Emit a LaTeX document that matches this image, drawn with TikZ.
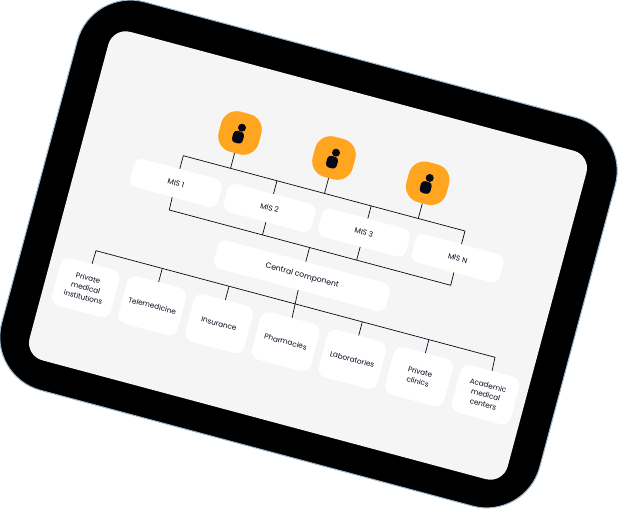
\documentclass[tikz,border=0pt]{standalone}
\usepackage{fontspec}
\setmainfont{Poppins}
\usetikzlibrary{calc}
\definecolor{edgeblue}{HTML}{9DB6CB}
\definecolor{screengray}{HTML}{F5F5F5}
\definecolor{badgeorange}{HTML}{FFA51F}
\definecolor{inknavy}{HTML}{050818}
\tikzset{
    misbox/.style={fill=white, rotate=-15, rounded corners=8, minimum width=91, minimum height=29, inner sep=0, text=inknavy, font=\fontsize{7.4}{9}\selectfont},
    destbox/.style={fill=white, rotate=-15, rounded corners=9, minimum width=61, minimum height=49, inner sep=0, align=center, text=inknavy, font=\fontsize{7.3}{9.8}\selectfont},
    badge/.style={fill=badgeorange, rotate=-15, rounded corners=16, minimum size=41.5, inner sep=0},
    wire/.style={draw=inknavy, line width=0.7},
}

\begin{document}
\begin{tikzpicture}[x=1pt, y=-1pt]

    \useasboundingbox (0,0) rectangle (618,510);

    % tablet body and screen
    \draw[edgeblue, line width=1.6] (138,2.5) -- (183,14.5);
    \draw[edgeblue, line width=1.6] (79,40) -- (70.5,75);
    \node (tablet) [draw=edgeblue, line width=1, fill=black, rotate=-15, rounded corners=55, minimum width=557, minimum height=402, inner sep=0] at (308.5,254) {};
    \node (screen) [fill=screengray, rotate=-15, rounded corners=18, minimum width=495, minimum height=340, inner sep=0] at (308,255.5) {};
    \node (camera) [circle, fill=inknavy, minimum size=1.5, inner sep=0] at (51,186) {};

    \node (mis1) [misbox] at (176,183) {MIS 1};
    \node (mis2) [misbox] at (269.7,208) {MIS 2};
    \node (mis3) [misbox] at (364,232.7) {MIS 3};
    \node (misn) [misbox] at (457.7,258.3) {MIS N};
    \node (central) [misbox, minimum width=178, font=\fontsize{7.7}{9}\selectfont] at (302,275.8) {Central component};

    \foreach \n/\x/\y/\t in {1/85.7/287.7/{Private\\medical\\institutions}, 2/152.3/305.7/Telemedicine, 3/219/323.7/Insurance, 4/285.7/341.7/Pharmacies, 5/352.3/359.3/Laboratories, 6/419/376.7/{Private\\clinics}, 7/485.7/394.7/{Academic\\medical\\centers}}
    \node (dest\n) [destbox] at (\x,\y) {\t};

    \foreach \n/\x/\y in {1/240/133, 2/334/158, 3/427.7/183.3} {
        \node (badge\n) [badge] at (\x,\y) {};
        \node (head\n) [circle, fill=inknavy, minimum size=8, inner sep=0] at ($(badge\n)+(2,-5.3)$) {};
        \node (body\n) [fill=inknavy, rotate=-15, rounded corners=3.6, minimum width=11, minimum height=12, inner sep=0] at ($(badge\n)+(-2,4.2)$) {};
    }

    \coordinate (topl) at (183.3,155.7);
    \coordinate (topr) at (465,231);
    \coordinate (midl) at (169.3,210);
    \coordinate (midr) at (450.7,285.3);
    \coordinate (lowl) at (96,250.7);
    \coordinate (lowr) at (495,357.3);

    \draw[wire] (mis1.north) -- (topl) -- (topr) -- (misn.north);
    \foreach \a in {badge1.south, mis2.north, badge2.south, mis3.north, badge3.south}
    \draw[wire] (\a) -- ($(topl)!(\a)!(topr)$);

    \draw[wire] (mis1.south) -- (midl) -- (midr) -- (misn.south);
    \foreach \a in {mis2.south, central.north, mis3.south}
    \draw[wire] (\a) -- ($(midl)!(\a)!(midr)$);

    \draw[wire] (dest1.north) -- (lowl) -- (lowr) -- (dest7.north);
    \foreach \a in {dest2.north, dest3.north, dest5.north, dest6.north}
    \draw[wire] (\a) -- ($(lowl)!(\a)!(lowr)$);
    \draw[wire] (central.south) -- (dest4.north);

\end{tikzpicture}
\end{document}
